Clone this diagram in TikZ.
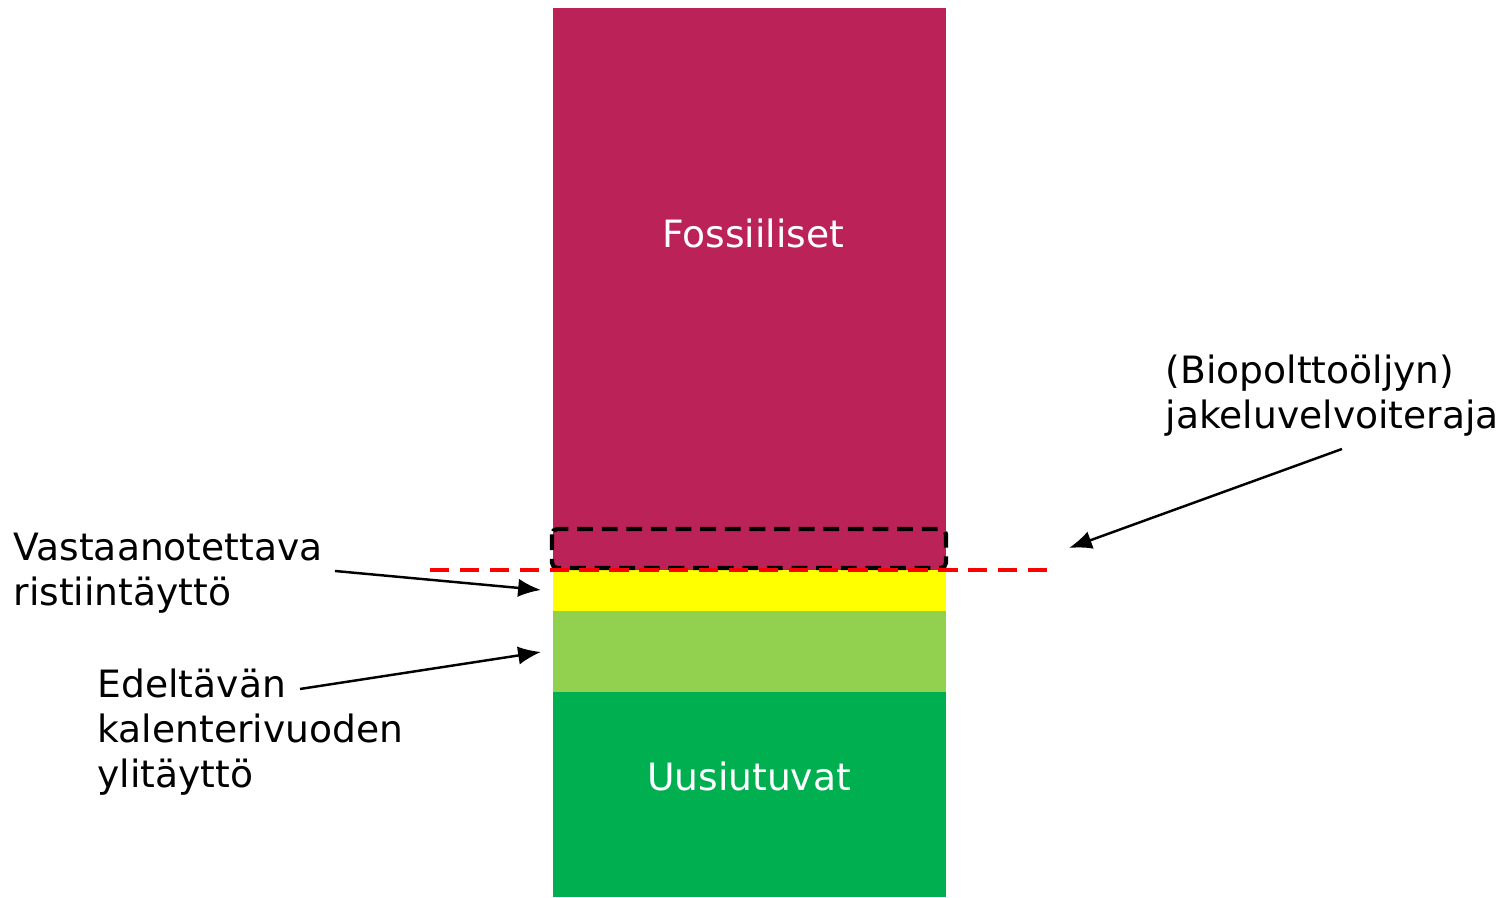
\documentclass[tikz,border=0pt]{standalone}
\usepackage{fontspec}
\setmainfont{DejaVu Sans}
\usetikzlibrary{arrows.meta}
\definecolor{fossil}{RGB}{187,35,88}
\definecolor{crossfill}{RGB}{255,255,0}
\definecolor{overfill}{RGB}{146,208,80}
\definecolor{renew}{RGB}{0,176,80}
\tikzset{
	label/.style={align=left,anchor=west,inner sep=0pt,font=\fontsize{10.7}{12.8}\selectfont},
	barlabel/.style={text=white,inner sep=0pt,font=\fontsize{10.7}{12.8}\selectfont},
	pointer/.style={-{Latex[length=6.5pt,width=5.2pt]},line width=0.7pt}
}
\begin{document}
\begin{tikzpicture}[x=0.01cm,y=-0.01cm]
\useasboundingbox (0,0) rectangle (1502,898);
% bar
\fill[fossil] (553,8) rectangle (946,570);
\fill[crossfill] (553,570) rectangle (946,611);
\fill[overfill] (553,611) rectangle (946,692);
\fill[renew] (553,692) rectangle (946,897);

\node[barlabel] (fossiiliset) at (753,233) {Fossiiliset};
\node[barlabel] (uusiutuvat) at (749,776) {Uusiutuvat};

% limit
\draw[black,line width=1.2pt,dash pattern=on 4.5pt off 2.5pt,rounded corners=1.5pt] (552,529) rectangle (946,568);
\draw[red,line width=1.3pt,dash pattern=on 5.5pt off 3pt] (430,570) -- (1048,570);

% labels
\node[label] (vastaan) at (13,573) {Vastaanotettava\\ristiintäyttö};
\node[label] (edelt) at (97,732) {Edeltävän\\kalenterivuoden\\ylitäyttö};
\node[label] (raja) at (1165,396) {(Biopolttoöljyn)\\jakeluvelvoiteraja};

\coordinate (ycross) at (541,590);
\coordinate (yover) at (541,652);
\coordinate (ylimit) at (1069,548);

\draw[pointer] (335,571) -- (ycross);
\draw[pointer] (300,689) -- (yover);
\draw[pointer] (1342,449) -- (ylimit);
\end{tikzpicture}
\end{document}
